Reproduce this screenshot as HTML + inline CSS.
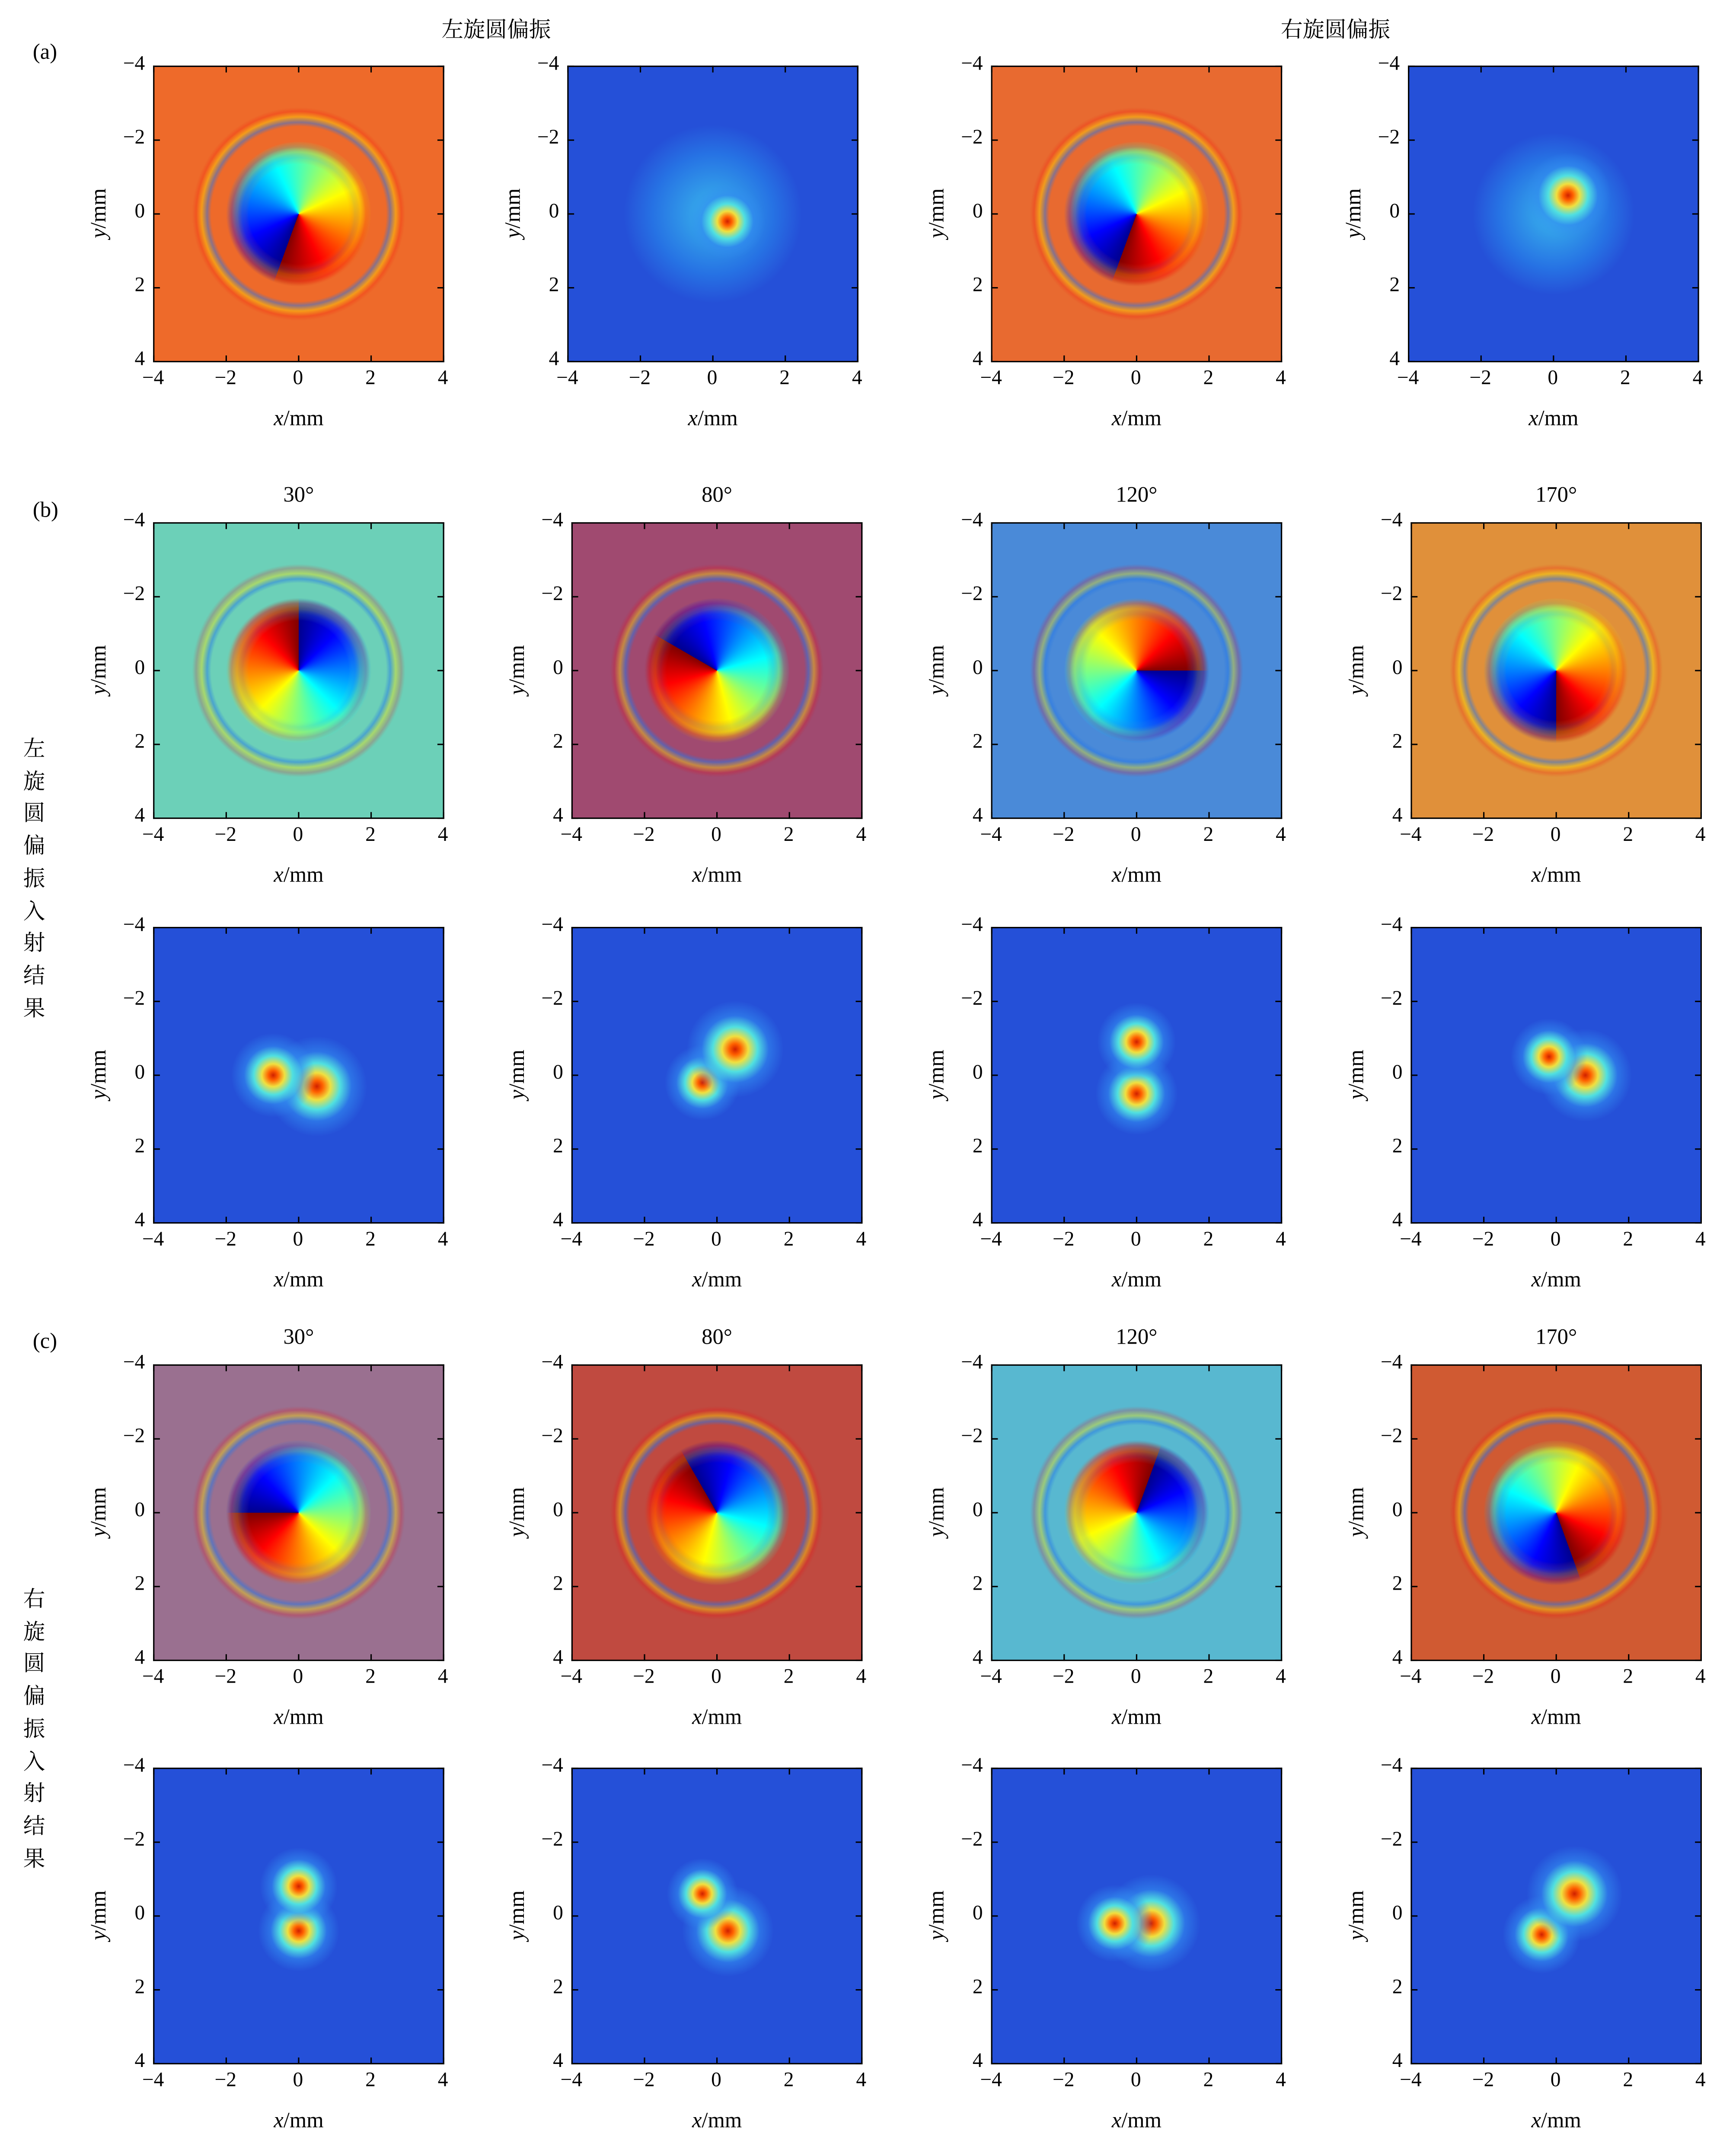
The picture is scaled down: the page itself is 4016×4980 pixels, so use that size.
<!DOCTYPE html>
<html><head><meta charset="utf-8">
<style>
html,body{margin:0;padding:0;background:#fff;}
#root{position:absolute;left:0;top:0;width:1270px;height:1575px;transform:scale(3.1622);transform-origin:0 0;font-family:"Liberation Serif","Noto Serif CJK SC",serif;color:#000;}
.p{position:absolute;overflow:hidden;box-sizing:border-box;}
.frame{position:absolute;border:1px solid #000;box-sizing:border-box;}
.t{position:absolute;font-size:15px;white-space:nowrap;}
.tk{position:absolute;background:#000;}
.lay{position:absolute;left:0;top:0;width:100%;height:100%;}
</style></head><body>
<div id="root"></div>
<script>
const ticks=[-4,-2,0,2,4];
const tickLabels=["\u22124","\u22122","0","2","4"];
const angleTitles=["30°","80°","120°","170°"];
const rowTops=[48,382,678,998,1293];
const rowH=217;
const colLeftsA=[112,415,725,1030];
const colLeftsBC=[112,418,725,1032];
const panelW=213;
const phaseBg={a0:"#ee6a2a",a2:"#e86a30",b0:"#6cd0b8",b1:"#a04a70",b2:"#4a8ad8",b3:"#e0903a",c0:"#9a7090",c1:"#c04a40",c2:"#58b8d0",c3:"#d05a32"};
const phaseAng={a0:200,a2:200,b0:0,b1:300,b2:90,b3:180,c0:270,c1:330,c2:20,c3:160};
const lobes={
 a1:[[0.4,0.2,1.0],[0,0,2.2]],
 a3:[[0.4,-0.5,1.1],[0,0,2.0]],
 b0:[[-0.7,0,1.1],[0.5,0.3,1.3]],
 b1:[[0.5,-0.7,1.2],[-0.4,0.2,1.0]],
 b2:[[0,-0.9,1.0],[0,0.5,1.1]],
 b3:[[-0.2,-0.5,1.0],[0.8,0,1.2]],
 c0:[[0,-0.8,1.0],[0,0.4,1.1]],
 c1:[[-0.4,-0.6,0.9],[0.3,0.4,1.2]],
 c2:[[-0.6,0.2,1.0],[0.4,0.2,1.3]],
 c3:[[0.5,-0.6,1.2],[-0.4,0.5,1.0]]
};
const root=document.getElementById('root');
function txt(s,x,y,opts){
 const d=document.createElement('div');d.className='t';d.innerHTML=s;
 d.style.left=x+'px';d.style.top=y+'px';
 if(opts&&opts.size)d.style.fontSize=opts.size+'px';
 if(opts&&opts.tf)d.style.transform=opts.tf;
 root.appendChild(d);return d;
}
const jet="#00008f,#0000ff,#0080ff,#00ffff,#80ff80,#ffff00,#ff8000,#ff0000,#800000";
function panel(key,kind,x,y){
 const w=panelW,h=rowH;
 const p=document.createElement('div');p.className='p';
 p.style.left=x+'px';p.style.top=y+'px';p.style.width=w+'px';p.style.height=h+'px';
 
 
 const cx=(px)=>((px+4)/8*100);
 if(kind==='phase'){
  p.style.background=phaseBg[key];
  const r1=document.createElement('div');r1.className='lay';
  r1.style.background="repeating-radial-gradient(circle at 50% 50%, rgba(255,255,255,0) 0 12px, rgba(40,120,230,0.5) 15px, rgba(255,230,0,0.4) 19px, rgba(255,0,0,0.2) 23px, rgba(255,0,0,0) 26px)";
  r1.style.webkitMaskImage="radial-gradient(circle at 50% 50%, #000 0 50%, transparent 56%)";
  r1.style.maskImage=r1.style.webkitMaskImage;
  p.appendChild(r1);
  const c=document.createElement('div');c.className='lay';
  c.style.background="conic-gradient(from "+phaseAng[key]+"deg at 50% 50%,"+jet+")";
  c.style.webkitMaskImage="radial-gradient(circle at 50% 50%, #000 0 24%, rgba(0,0,0,0.6) 30%, transparent 35%)";
  c.style.maskImage=c.style.webkitMaskImage;
  p.appendChild(c);
 }else{
  let bg=[];
  lobes[key].forEach((l,i)=>{
   const s=l[2]*13;
   if(i===1&&(key==='a1'||key==='a3'))
     bg.push("radial-gradient(circle at "+cx(l[0])+"% "+cx(l[1])+"%, rgba(60,200,240,0.85) 0, rgba(40,150,240,0.5) "+s+"%, rgba(30,70,220,0) "+(s*1.5)+"%)");
   else
     bg.push("radial-gradient(circle at "+cx(l[0])+"% "+cx(l[1])+"%, #d02000 0, #ff6000 "+(s*0.15)+"%, #f0e040 "+(s*0.35)+"%, #50e0e0 "+(s*0.6)+"%, rgba(50,140,240,0.6) "+(s*0.9)+"%, rgba(30,70,220,0) "+(s*1.3)+"%)");
  });
  bg.push("#2550d8");
  p.style.background=bg.join(",");
 }
 root.appendChild(p);
 const f=document.createElement('div');f.className='frame';
 f.style.left=x+'px';f.style.top=y+'px';f.style.width=w+'px';f.style.height=h+'px';
 root.appendChild(f);
 for(let i=0;i<ticks.length;i++){
  const fx=(ticks[i]+4)/8, tx=x+fx*(w-1), ty=y+fx*(h-1);
  [[tx,y,1,5],[tx,y+h-5,1,5],[x,ty,5,1],[x+w-5,ty,5,1]].forEach(a=>{
   const t=document.createElement('div');t.className='tk';
   t.style.left=a[0]+'px';t.style.top=a[1]+'px';t.style.width=a[2]+'px';t.style.height=a[3]+'px';
   root.appendChild(t);
  });
  const xl=txt(tickLabels[i],tx,y+h+4,{tf:"translateX(-50%)"});
  
  const yl=txt(tickLabels[i],x-6,ty-9,{tf:"translateX(-100%)"});
  
 }
 const xt=txt("<i>x</i>/mm",x+w/2,y+h+33,{tf:"translateX(-50%)",size:16});
 
 const yt=txt("<i>y</i>/mm",x-57,y+h/2-10,{tf:"rotate(-90deg)",size:16});
 
}
panel('a0','phase',colLeftsA[0],rowTops[0]);
panel('a1','int',colLeftsA[1],rowTops[0]);
panel('a2','phase',colLeftsA[2],rowTops[0]);
panel('a3','int',colLeftsA[3],rowTops[0]);
for(let c=0;c<4;c++){
 panel('b'+c,'phase',colLeftsBC[c],rowTops[1]);
 panel('b'+c,'int',colLeftsBC[c],rowTops[2]);
 panel('c'+c,'phase',colLeftsBC[c],rowTops[3]);
 panel('c'+c,'int',colLeftsBC[c],rowTops[4]);
 const t1=txt(angleTitles[c],colLeftsBC[c]+panelW/2,354,{tf:"translateX(-50%)",size:16});
 
 const t2=txt(angleTitles[c],colLeftsBC[c]+panelW/2,970,{tf:"translateX(-50%)",size:16});
 
}
const h1=txt("左旋圆偏振",363,9,{tf:"translateX(-50%)",size:16});

const h2=txt("右旋圆偏振",977,9,{tf:"translateX(-50%)",size:16});

[["(a)",30],["(b)",365],["(c)",973]].forEach(a=>{
 const d=txt(a[0],24,a[1],{size:16});
 
});
function vtext(s,y0){
 for(let i=0;i<s.length;i++){
  const d=txt(s[i],17,y0+i*23.7,{size:16});
  
 }
}
vtext("左旋圆偏振入射结果",535);
vtext("右旋圆偏振入射结果",1157);
</script>
</body></html>
